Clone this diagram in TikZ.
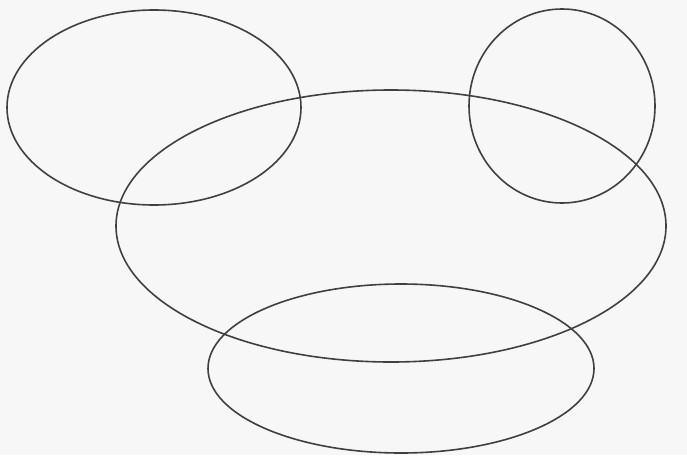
\documentclass[tikz,border=0pt]{standalone}
\begin{document}
\begin{tikzpicture}[x=1pt,y=-1pt,
  ring/.style={draw=black!75,line width=1.6pt}]
\fill[black!3] (0,0) rectangle (687,455);
\useasboundingbox (0,0) rectangle (687,455);
\draw[ring] (154,107.5) ellipse [x radius=147, y radius=97.5];
\draw[ring] (562,106) ellipse [x radius=93, y radius=97];
\draw[ring] (391,226) ellipse [x radius=275, y radius=136];
\draw[ring] (401,368.5) ellipse [x radius=193, y radius=84.5];
\end{tikzpicture}
\end{document}
